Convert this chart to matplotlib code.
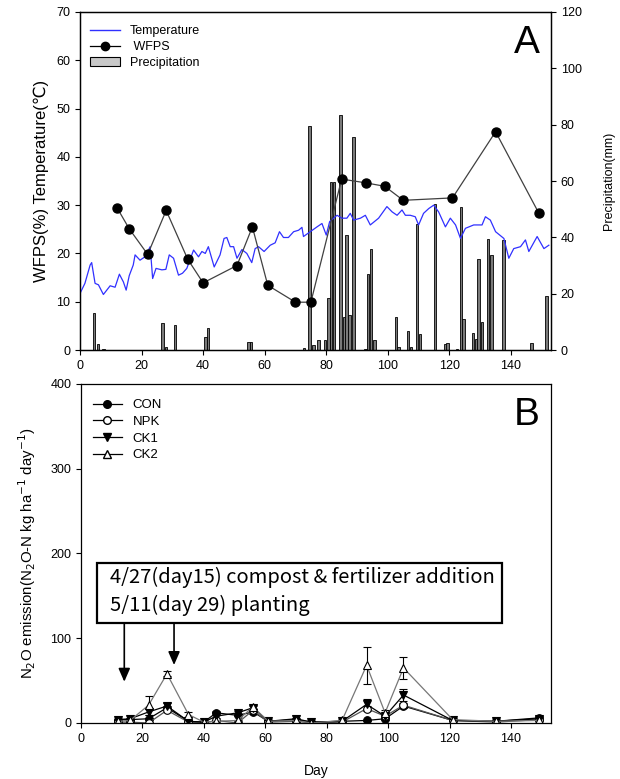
import numpy as np
import matplotlib
matplotlib.use("Agg")
import matplotlib.pyplot as plt
from matplotlib.lines import Line2D
from matplotlib.patches import Patch, Rectangle

plt.rcParams['font.family'] = ['Liberation Sans', 'DejaVu Sans']

# ── Panel A data ───────────────────────────────────────────────────────────────
temp_day = [0, 1.6, 3.3, 3.8, 4.9, 6.0, 7.6, 9.8, 11.4, 12.8, 14.1, 15.0, 16.0,
            17.3, 17.9, 19.5, 21.1, 22.8, 23.6, 24.7, 26.6, 27.9, 29.0, 30.4,
            32.0, 33.3, 34.7, 36.9, 38.5, 39.6, 40.7, 41.7, 43.6, 45.5, 46.8,
            47.7, 48.8, 49.9, 51.0, 52.6, 54.2, 55.8, 56.9, 58.0, 59.8, 61.8,
            63.4, 64.8, 66.1, 67.7, 69.4, 71.0, 72.1, 72.6, 74.8, 77.0, 78.6,
            80.0, 81.1, 83.5, 85.1, 86.7, 87.8, 88.9, 91.1, 92.7, 94.3, 97.0,
            99.7, 101.4, 103.0, 104.6, 105.7, 107.3, 108.9, 110.0, 111.6, 113.3,
            114.9, 116.5, 118.7, 120.3, 122.0, 123.6, 125.2, 127.9, 130.6, 131.7,
            133.3, 135.0, 137.7, 139.3, 140.9, 143.1, 144.7, 145.8, 148.5, 150.7,
            152.3]
temp_val = [11.7, 13.8, 17.6, 18.1, 13.8, 13.5, 11.5, 13.3, 13.0, 15.7, 14.1, 12.4,
            15.4, 17.6, 19.7, 18.6, 19.3, 21.4, 14.8, 16.9, 16.6, 16.7, 19.7, 19.0,
            15.5, 15.9, 16.9, 20.7, 19.3, 20.4, 20.0, 21.4, 17.2, 19.7, 23.1,
            23.3, 21.4, 21.4, 19.0, 20.8, 20.0, 18.1, 21.0, 21.4, 20.4, 21.7,
            22.2, 24.5, 23.3, 23.3, 24.5, 24.8, 25.4, 23.5, 24.5, 25.5, 26.2,
            23.8, 26.6, 27.9, 27.3, 27.3, 28.3, 26.9, 27.3, 27.9, 25.9, 27.3,
            29.7, 28.6, 27.9, 29.0, 27.9, 27.9, 27.6, 25.9, 28.3, 29.3,
            30.0, 28.6, 25.5, 27.3, 25.9, 23.1, 25.2, 25.9, 25.9, 27.6,
            26.9, 24.5, 23.1, 19.0, 21.0, 21.4, 22.8, 20.4, 23.5, 21.0,
            21.7]

wfps_day = [12, 16, 22, 28, 35, 40, 51, 56, 61, 70, 75, 85, 93, 99, 105, 121, 135, 149]
wfps_val = [29.5, 25.1, 19.8, 28.9, 18.8, 13.9, 17.5, 25.5, 13.4, 9.9, 9.9,
            35.4, 34.6, 33.9, 31.0, 31.5, 45.2, 28.4]

precip_day = [4.6, 5.9, 7.6, 26.8, 27.9, 30.9, 40.7, 41.6, 54.7, 55.6, 72.7, 74.6,
              75.9, 77.5, 79.6, 80.7, 81.6, 82.6, 84.6, 85.8, 86.6, 87.6, 88.8,
              92.8, 93.5, 94.6, 95.6, 102.6, 103.5, 106.5, 107.5, 109.5, 110.5,
              115.4, 118.7, 119.4, 122.5, 123.7, 124.6, 127.6, 128.6, 129.5,
              130.6, 132.5, 133.7, 137.6, 146.6, 151.5]
precip_mm = [13.0, 2.0, 0.5, 9.5, 1.0, 8.9, 4.5, 7.9, 3.0, 3.0, 0.8, 79.5,
             1.9, 3.5, 3.5, 18.3, 59.5, 59.5, 83.4, 11.6, 41.0, 12.5, 75.7,
             0.4, 27.0, 35.8, 3.5, 11.6, 1.0, 6.6, 1.2, 44.8, 5.6,
             51.7, 2.0, 2.4, 0.3, 50.9, 10.9, 5.9, 3.9, 32.4,
             9.9, 39.5, 33.9, 39.1, 2.4, 19.0]

# ── Panel B data ───────────────────────────────────────────────────────────────
n2o_day = [12, 16, 22, 28, 35, 40, 44, 51, 56, 61, 70, 75, 85, 93, 99, 105, 121, 135, 149]
n2o = {
    "CON": [4, 4, 5, 18, 2, 1, 12, 9, 13, 2, 4, 1, 2, 3, 5, 20, 3, 2, 6],
    "NPK": [1, 1, 0, 15, 1, 0, 3, 0, 15, 1, 2, 0, 1, 17, 8, 21, 3, 1, 4],
    "CK1": [4, 5, 13, 20, 2, 1, 8, 12, 18, 2, 5, 1, 2, 22, 8, 33, 3, 2, 5],
    "CK2": [2, 3, 21, 58, 10, 1, 2, 3, 19, 2, 3, 0, 3, 68, 12, 65, 4, 2, 3],
}
n2o_err = {
    "CON": [1, 1, 1, 2, 1, 0, 2, 1, 2, 1, 1, 0, 1, 1, 1, 2, 1, 1, 2],
    "NPK": [0, 1, 1, 2, 1, 0, 1, 0, 2, 1, 1, 0, 1, 3, 2, 3, 1, 1, 1],
    "CK1": [0, 1, 3, 3, 1, 0, 2, 2, 2, 1, 1, 0, 1, 6, 2, 7, 1, 1, 2],
    "CK2": [0, 1, 11, 3, 3, 0, 1, 1, 2, 1, 1, 0, 1, 22, 3, 13, 1, 1, 1],
}
styles = {
    "CON": dict(marker="o", mfc="black", color="black"),
    "NPK": dict(marker="o", mfc="white", color="#555555"),
    "CK1": dict(marker="v", mfc="black", color="black"),
    "CK2": dict(marker="^", mfc="white", color="#777777"),
}
xticks = np.arange(0, 141, 20)
KR_FONT = ["Noto Sans CJK KR", "DejaVu Sans"]


def _style_ax(ax):
    ax.tick_params(direction="out", length=3.5, width=0.8, labelsize=9)
    for s in ax.spines.values():
        s.set_linewidth(0.9)


fig = plt.figure(figsize=(6.2, 7.79), dpi=100)

# ── Panel A ────────────────────────────────────────────────────────────────────
ax1 = fig.add_axes([0.129, 0.5507, 0.7597, 0.4339])
ax2 = ax1.twinx()
ax1.set_zorder(ax2.get_zorder() + 1)
ax1.patch.set_visible(False)

ax2.bar(precip_day, precip_mm, width=0.8, color="#7a7a7a", edgecolor="black", linewidth=0.6)
ax1.plot(temp_day, temp_val, color="#3030ff", lw=0.9)
ax1.plot(wfps_day, wfps_val, color="#404040", lw=0.9, marker="o",
         ms=6.5, mfc="black", mec="black")

ax1.set_xlim(0, 153)
ax1.set_ylim(0, 70)
ax2.set_ylim(0, 120)
ax1.set_xticks(xticks)
ax1.set_yticks(np.arange(0, 71, 10))
ax2.set_yticks(np.arange(0, 121, 20))
ax1.set_ylabel("WFPS(%) Temperature(℃)", fontsize=12, labelpad=5)
ax2.set_ylabel("Precipitation(mm)", fontsize=9, labelpad=15)
_style_ax(ax1)
_style_ax(ax2)

handles = [Line2D([0], [0], color="#3030ff", lw=1),
           Line2D([0], [0], color="black", lw=0.9, marker="o", ms=6, mfc="black"),
           Patch(facecolor="#c8c8c8", edgecolor="black", linewidth=0.8)]
ax1.legend(handles, ["Temperature", " WFPS", "Precipitation"], loc="upper left",
           frameon=False, fontsize=9, handlelength=2.4, labelspacing=0.3,
           borderaxespad=0.4, bbox_to_anchor=(0.0, 0.99))
ax1.text(0.977, 0.908, "A", transform=ax1.transAxes, fontsize=28, ha="right", va="center")

# ── Panel B ────────────────────────────────────────────────────────────────────
ax3 = fig.add_axes([0.1306, 0.0719, 0.758, 0.4352])
for name in ["CON", "NPK", "CK1", "CK2"]:
    st = styles[name]
    ax3.errorbar(n2o_day, n2o[name], yerr=n2o_err[name], color=st["color"],
                 ecolor="black", elinewidth=0.8, capsize=3, capthick=0.8,
                 lw=0.9, marker=st["marker"], ms=5.5, mfc=st["mfc"], mec="black",
                 mew=0.8, label=name)

ax3.set_xlim(0, 153)
ax3.set_ylim(0, 400)
ax3.set_xticks(xticks)
ax3.set_yticks(np.arange(0, 401, 100))
ax3.set_xlabel("Day", fontsize=10, labelpad=14)
ax3.set_ylabel(r"N$_2$O emission(N$_2$O-N kg ha$^{-1}$ day$^{-1}$)", fontsize=10.8, labelpad=9)
_style_ax(ax3)

leg_h = [Line2D([0], [0], color="black", lw=0.9, marker=styles[n]["marker"], ms=5.5,
                mfc=styles[n]["mfc"], mec="black") for n in ["CON", "NPK", "CK1", "CK2"]]
ax3.legend(leg_h, ["CON", "NPK", "CK1", "CK2"], loc="upper left", frameon=False,
           fontsize=9.5, handlelength=2.2, labelspacing=0.33, borderaxespad=0.5,
           bbox_to_anchor=(0.0, 0.99))
ax3.text(0.977, 0.909, "B", transform=ax3.transAxes, fontsize=28, ha="right", va="center")

# annotation box + arrows
ax3.add_patch(Rectangle((5.2, 118), 131.8, 71, fill=False, lw=1.6, ec="black", zorder=5))
ax3.text(9.4, 172, "4/27(day15) compost & fertilizer addition", fontsize=14.5,
         family=KR_FONT, va="center", ha="left")
ax3.text(9.4, 139, "5/11(day 29) planting", fontsize=14.5,
         family=KR_FONT, va="center", ha="left")
for x_arr, y_tip in [(14.1, 48.7), (30.3, 68.4)]:
    ax3.annotate("", xy=(x_arr, y_tip), xytext=(x_arr, 118),
                 arrowprops=dict(arrowstyle="-|>,head_length=0.8,head_width=0.35",
                                 color="black", lw=1.2, shrinkA=0, shrinkB=0))

fig.savefig("out.png", dpi=100)
